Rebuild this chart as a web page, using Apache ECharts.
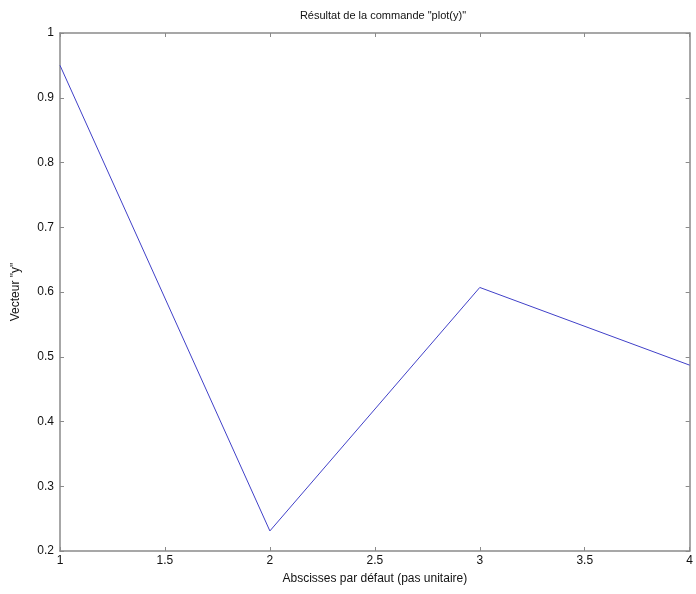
<!DOCTYPE html>
<html><head><meta charset="utf-8">
<script src="https://cdn.jsdelivr.net/npm/echarts@6/dist/echarts.min.js"></script>
<style>html,body{margin:0;padding:0;background:#fff}#c{width:696px;height:594px}</style>
</head><body><div id="c"></div>
<script>
const xValues = [1, 2, 3, 4];
const yValues = [0.95, 0.231, 0.607, 0.487];
const titleText = 'Résultat de la commande "plot(y)"';
const xName = 'Abscisses par défaut (pas unitaire)';
const yName = 'Vecteur "y"';

const chart = echarts.init(document.getElementById('c'));
const font = 'Liberation Sans, Arial, sans-serif';
const axisLine = {show: true, lineStyle: {color: '#8a8a8a', width: 1.5}};
const tick = {show: true, inside: true, length: 4, lineStyle: {color: '#8a8a8a'}};
chart.setOption({
  animation: false,
  title: {text: titleText, left: 378, top: 5, textAlign: 'center',
    textStyle: {fontFamily: font, fontSize: 11, fontWeight: 'normal', color: '#111'}},
  grid: {left: 60, right: 2, top: 33, bottom: 43},
  xAxis: [{
    type: 'value', min: 1, max: 4, interval: 0.5,
    name: xName, nameLocation: 'middle', nameGap: 22,
    nameTextStyle: {fontFamily: font, fontSize: 12, color: '#111'},
    axisLine: axisLine, axisTick: tick, splitLine: {show: false},
    axisLabel: {fontFamily: font, fontSize: 12, color: '#111', margin: 4}
  }, {
    type: 'value', position: 'top', min: 1, max: 4, interval: 0.5,
    axisLine: axisLine, axisTick: tick, splitLine: {show: false},
    axisLabel: {show: false}
  }],
  yAxis: [{
    type: 'value', min: 0.2, max: 1, interval: 0.1,
    name: yName, nameLocation: 'middle', nameGap: 38, nameRotate: 90,
    nameTextStyle: {fontFamily: font, fontSize: 12, color: '#111'},
    axisLine: axisLine, axisTick: tick, splitLine: {show: false},
    axisLabel: {fontFamily: font, fontSize: 12, color: '#111', margin: 6,
      formatter: v => String(Math.round(v * 10) / 10)}
  }, {
    type: 'value', position: 'right', min: 0.2, max: 1, interval: 0.1,
    axisLine: axisLine, axisTick: tick, splitLine: {show: false},
    axisLabel: {show: false}
  }],
  series: [{
    type: 'line', xAxisIndex: 0, yAxisIndex: 0,
    data: xValues.map((x, i) => [x, yValues[i]]),
    showSymbol: false, symbol: 'none',
    lineStyle: {color: '#4040c8', width: 1}
  }]
});
</script></body></html>
